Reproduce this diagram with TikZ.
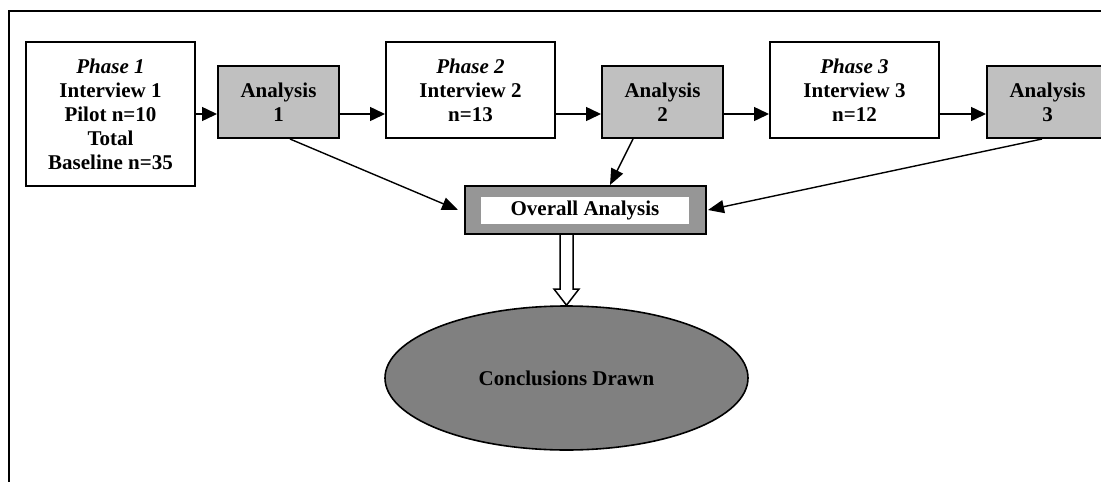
\documentclass[tikz,border=0pt]{standalone}
\usepackage{fontspec}
\setmainfont{Liberation Serif}
\usetikzlibrary{arrows.meta,shapes.geometric}
\definecolor{anagray}{RGB}{192,192,192}
\definecolor{ovgray}{RGB}{150,150,150}
\definecolor{ellgray}{RGB}{128,128,128}
\begin{document}
\begin{tikzpicture}[x=1pt,y=-1pt,
  every node/.style={font=\fontsize{21}{24}\selectfont\bfseries, align=center, inner sep=0pt},
  phasebox/.style={draw=black, line width=2pt, fill=white, minimum width=169pt},
  anabox/.style={draw=black, line width=2pt, fill=anagray, minimum width=121pt, minimum height=72pt},
  flow/.style={line width=1.5pt, -{Triangle[length=15pt,width=14pt]}},
  feed/.style={line width=1.4pt, -{Triangle[length=16pt,width=13pt]}}
]
\useasboundingbox (0,0) rectangle (1101,482);
\clip (0,0) rectangle (1101,482);

% outer frame (top and left edges)
\draw[line width=2.2pt] (9,490) -- (9,11) -- (1110,11);

% phases and analyses
\node[phasebox, minimum height=144pt] (p1) at (110.5,114)
  {\textit{Phase 1}\\Interview 1\\Pilot n=10\\Total\\Baseline n=35};
\node[anabox] (a1) at (278.5,102) {Analysis\\1};
\node[phasebox, minimum height=96pt] (p2) at (470.5,90)
  {\textit{Phase 2}\\Interview 2\\n=13};
\node[anabox] (a2) at (662.5,102) {Analysis\\2};
\node[phasebox, minimum height=96pt] (p3) at (854.5,90)
  {\textit{Phase 3}\\Interview 3\\n=12};
\node[anabox] (a3) at (1047.5,102) {Analysis\\3};

% overall analysis box with white label panel
\node[draw=black, line width=2pt, fill=ovgray, minimum width=241pt, minimum height=48pt] (ov) at (585.5,210) {};
\node[fill=white, minimum width=208pt, minimum height=27pt] (ovl) at (585,210.5) {Overall Analysis};

% conclusions ellipse
\node[draw=black, line width=1.6pt, fill=ellgray, ellipse, minimum width=363pt, minimum height=144pt] (cd) at (566.5,378) {Conclusions Drawn};

% horizontal flow
\draw[flow] (p1.east) -- (a1.west |- p1.east);
\draw[flow] (a1.east |- p1.east) -- (p2.west |- p1.east);
\draw[flow] (p2.east |- p1.east) -- (a2.west |- p1.east);
\draw[flow] (a2.east |- p1.east) -- (p3.west |- p1.east);
\draw[flow] (p3.east |- p1.east) -- (a3.west |- p1.east);

% analyses feeding the overall analysis
\draw[feed] ([xshift=11.5pt]a1.south) -- ([xshift=-6pt]ov.west);
\draw[feed] ([xshift=-29.5pt]a2.south) -- ([xshift=24.5pt]ov.north);
\draw[feed] ([xshift=-5.5pt]a3.south) -- ([xshift=1pt]ov.east);

% hollow block arrow to the conclusions
\coordinate (bt) at (ov.south -| cd.north);
\draw[line width=1.5pt, fill=white, line join=miter]
  ([xshift=-6.5pt]bt) -- ([xshift=-6.5pt,yshift=-54pt]bt) -- ([xshift=-12.5pt,yshift=-54pt]bt)
  -- (cd.north) -- ([xshift=12.5pt,yshift=-54pt]bt) -- ([xshift=6.5pt,yshift=-54pt]bt)
  -- ([xshift=6.5pt]bt);
\end{tikzpicture}
\end{document}
